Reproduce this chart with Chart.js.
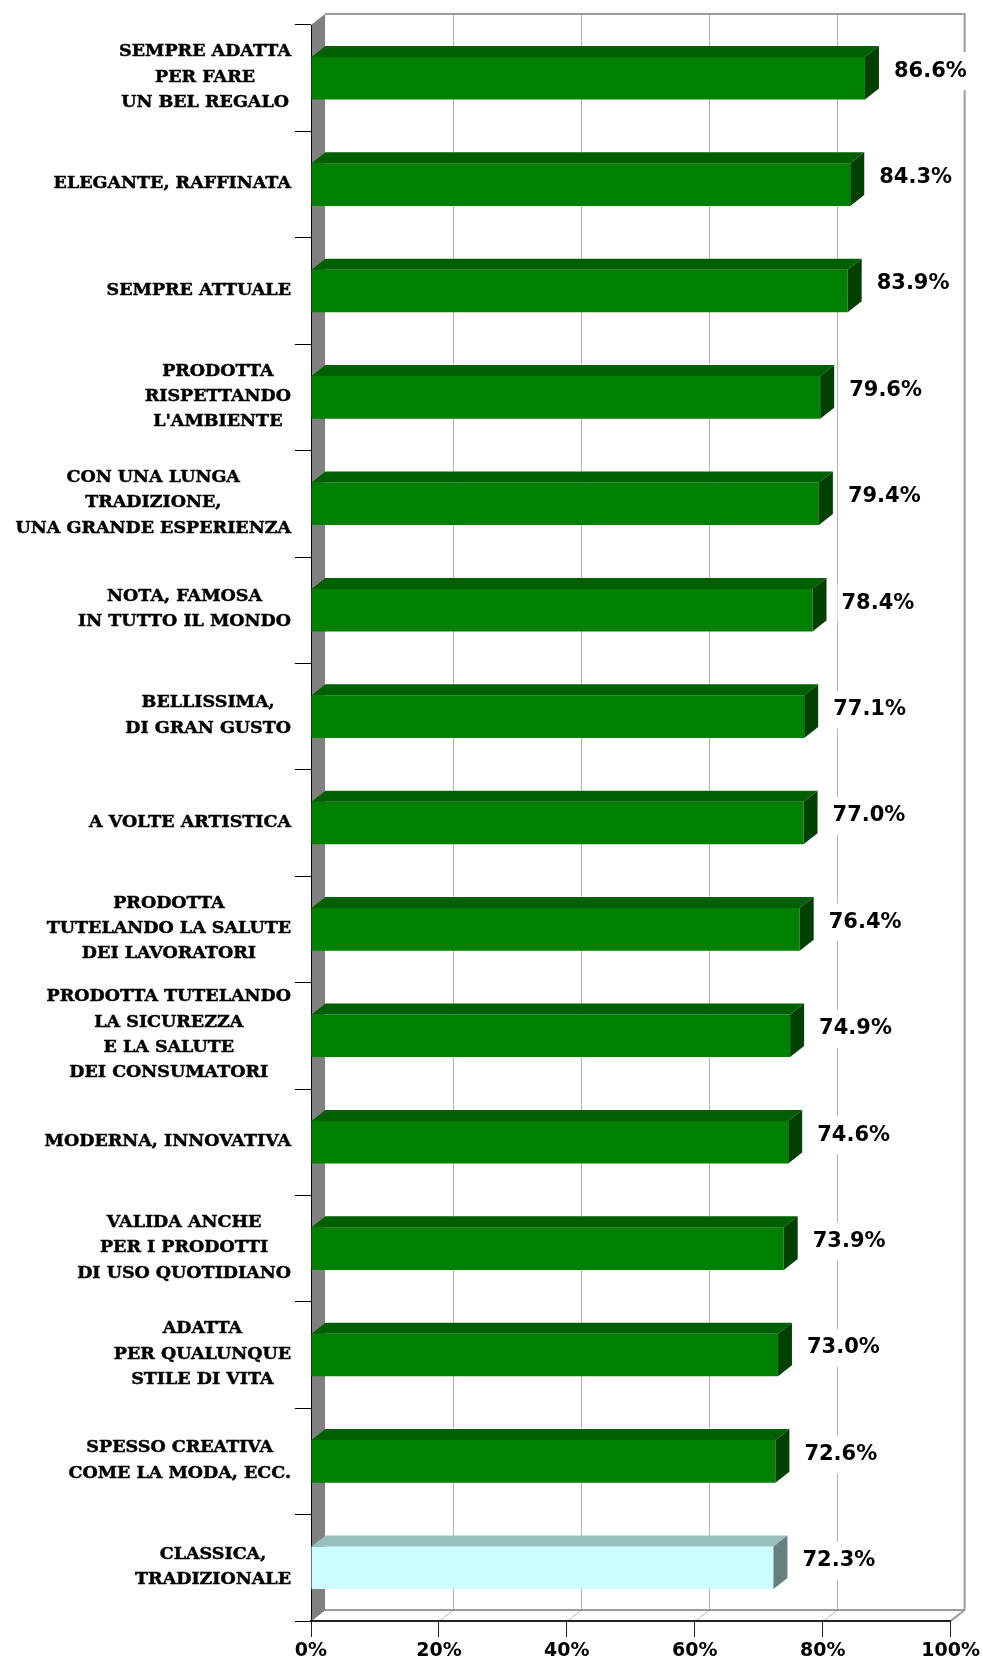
<!DOCTYPE html>
<html lang="it">
<head>
    <meta charset="UTF-8">
    <title>Percezione del prodotto</title>
    <script src="https://cdn.jsdelivr.net/npm/chart.js"></script>
    <style>
        body {
            margin: 0;
            background: #fff;
        }
        .wrap {
            width: 983px;
            height: 1663px;
        }
    </style>
</head>
<body>
<div class="wrap"><canvas id="grafico" width="983" height="1663"></canvas></div>
<script>
    // Etichette (una riga per elemento) e percentuali
    const categorie = [
        ['SEMPRE ADATTA', 'PER FARE', 'UN BEL REGALO'],
        ['ELEGANTE, RAFFINATA'],
        ['SEMPRE ATTUALE'],
        ['PRODOTTA', 'RISPETTANDO', "L'AMBIENTE"],
        ['CON UNA LUNGA', 'TRADIZIONE,', 'UNA GRANDE ESPERIENZA'],
        ['NOTA, FAMOSA', 'IN TUTTO IL MONDO'],
        ['BELLISSIMA,', 'DI GRAN GUSTO'],
        ['A VOLTE ARTISTICA'],
        ['PRODOTTA', 'TUTELANDO LA SALUTE', 'DEI LAVORATORI'],
        ['PRODOTTA TUTELANDO', 'LA SICUREZZA', 'E LA SALUTE', 'DEI CONSUMATORI'],
        ['MODERNA, INNOVATIVA'],
        ['VALIDA ANCHE', 'PER I PRODOTTI', 'DI USO QUOTIDIANO'],
        ['ADATTA', 'PER QUALUNQUE', 'STILE DI VITA'],
        ['SPESSO CREATIVA', 'COME LA MODA, ECC.'],
        ['CLASSICA,', 'TRADIZIONALE']
    ];
    const valori = [86.6, 84.3, 83.9, 79.6, 79.4, 78.4, 77.1, 77.0, 76.4, 74.9, 74.6, 73.9, 73.0, 72.6, 72.3];
    const tickPercentuali = [0, 20, 40, 60, 80, 100];

    // profondità dell'effetto 3D
    const DX = 14, DY = 11;

    const ultimo = valori.length - 1;
    const fronte = valori.map((v, i) => i === ultimo ? '#ccffff' : '#008000');
    const sopra = valori.map((v, i) => i === ultimo ? '#99bfbf' : '#005f00');
    const lato = valori.map((v, i) => i === ultimo ? '#668080' : '#004000');

    // pareti di fondo, parete sinistra, pavimento e griglia
    const pareti = {
        id: 'pareti',
        beforeDraw(chart) {
            const ctx = chart.ctx;
            const { left, right, top, bottom } = chart.chartArea;
            const xs = chart.scales.x;
            ctx.save();

            ctx.strokeStyle = '#b4b4b4';
            ctx.lineWidth = 1;
            tickPercentuali.forEach(v => {
                if (v === 0 || v === 100) return;
                const px = Math.round(xs.getPixelForValue(v)) + 0.5;
                ctx.beginPath();
                ctx.moveTo(px + DX, top - DY);
                ctx.lineTo(px + DX, bottom - DY);
                ctx.lineTo(px, bottom);
                ctx.stroke();
            });

            ctx.fillStyle = '#808080';
            ctx.beginPath();
            ctx.moveTo(left, top);
            ctx.lineTo(left + DX, top - DY);
            ctx.lineTo(left + DX, bottom - DY);
            ctx.lineTo(left, bottom);
            ctx.closePath();
            ctx.fill();

            ctx.strokeStyle = '#9a9a9a';
            ctx.lineWidth = 2;
            ctx.beginPath();
            ctx.moveTo(left + DX, top - DY);
            ctx.lineTo(right + DX, top - DY);
            ctx.lineTo(right + DX, bottom - DY);
            ctx.lineTo(right, bottom);
            ctx.moveTo(left + DX, bottom - DY);
            ctx.lineTo(right + DX, bottom - DY);
            ctx.stroke();

            ctx.lineWidth = 1;
            ctx.strokeStyle = '#808080';
            ctx.beginPath();
            ctx.moveTo(left, bottom);
            ctx.lineTo(left + DX, bottom - DY);
            ctx.stroke();
            ctx.restore();
        }
    };

    // faccia superiore e laterale di ogni barra
    const facce3d = {
        id: 'facce3d',
        afterDatasetsDraw(chart) {
            const ctx = chart.ctx;
            const meta = chart.getDatasetMeta(0);
            ctx.save();
            meta.data.forEach((bar, i) => {
                const { x, y, base, height } = bar.getProps(['x', 'y', 'base', 'height'], true);
                const t = y - height / 2, b = y + height / 2;

                ctx.fillStyle = sopra[i];
                ctx.beginPath();
                ctx.moveTo(base, t);
                ctx.lineTo(x, t);
                ctx.lineTo(x + DX, t - DY);
                ctx.lineTo(base + DX, t - DY);
                ctx.closePath();
                ctx.fill();

                ctx.fillStyle = lato[i];
                ctx.beginPath();
                ctx.moveTo(x, t);
                ctx.lineTo(x + DX, t - DY);
                ctx.lineTo(x + DX, b - DY);
                ctx.lineTo(x, b);
                ctx.closePath();
                ctx.fill();
            });
            ctx.restore();
        }
    };

    // valori a destra delle barre ed etichette delle categorie
    const etichette = {
        id: 'etichette',
        afterDraw(chart) {
            const ctx = chart.ctx;
            const ys = chart.scales.y;
            const meta = chart.getDatasetMeta(0);
            ctx.save();

            ctx.font = 'bold 21px "DejaVu Sans"';
            ctx.textBaseline = 'middle';
            ctx.textAlign = 'left';
            meta.data.forEach((bar, i) => {
                const testo = valori[i].toFixed(1) + '%';
                const tx = bar.x + DX + 15;
                const ty = bar.y - 7;
                const w = ctx.measureText(testo).width;
                ctx.fillStyle = '#fff';
                ctx.fillRect(tx - 4, ty - 19, w + 8, 38);
                ctx.fillStyle = '#000';
                ctx.fillText(testo, tx, ty);
            });

            // testo un po' più marcato, come un grassetto pesante
            ctx.font = 'bold 17.5px "DejaVu Serif"';
            ctx.textAlign = 'center';
            ctx.strokeStyle = '#000';
            ctx.lineWidth = 0.5;
            const destra = chart.chartArea.left - 20;
            const passo = 25.4;
            categorie.forEach((righe, i) => {
                const cy = ys.getPixelForValue(i) - 1;
                const larghezza = Math.max(...righe.map(r => ctx.measureText(r).width));
                const cx = destra - larghezza / 2;
                righe.forEach((r, k) => {
                    const ry = cy + (k - (righe.length - 1) / 2) * passo;
                    ctx.fillText(r, cx, ry);
                    ctx.strokeText(r, cx, ry);
                });
            });
            ctx.restore();
        }
    };

    const ctx = document.getElementById('grafico').getContext('2d');
    const grafico = new Chart(ctx, {
        type: 'bar',
        data: {
            labels: categorie.map(r => r.join(' ')),
            datasets: [{
                data: valori,
                backgroundColor: fronte,
                borderWidth: 0,
                barPercentage: 0.4,
                categoryPercentage: 1
            }]
        },
        options: {
            indexAxis: 'y',
            responsive: false,
            animation: false,
            devicePixelRatio: 1,
            layout: { padding: { top: 25, right: 32, left: 0, bottom: 0 } },
            plugins: {
                legend: { display: false },
                tooltip: { enabled: false }
            },
            scales: {
                x: {
                    min: 0,
                    max: 100,
                    afterBuildTicks: s => { s.ticks = tickPercentuali.map(v => ({ value: v })); },
                    afterFit: s => { s.height = 42; },
                    grid: { drawOnChartArea: false, tickLength: 16, color: '#222' },
                    border: { color: '#222', width: 2 },
                    ticks: {
                        callback: v => v + '%',
                        color: '#000',
                        padding: 3,
                        maxRotation: 0,
                        font: { family: 'DejaVu Sans', weight: 'bold', size: 19 }
                    }
                },
                y: {
                    afterFit: s => { s.width = 311; },
                    grid: { drawOnChartArea: false, tickLength: 16, color: '#000' },
                    border: { color: '#000', width: 1 },
                    ticks: { display: false }
                }
            }
        },
        plugins: [pareti, facce3d, etichette]
    });
</script>
</body>
</html>
